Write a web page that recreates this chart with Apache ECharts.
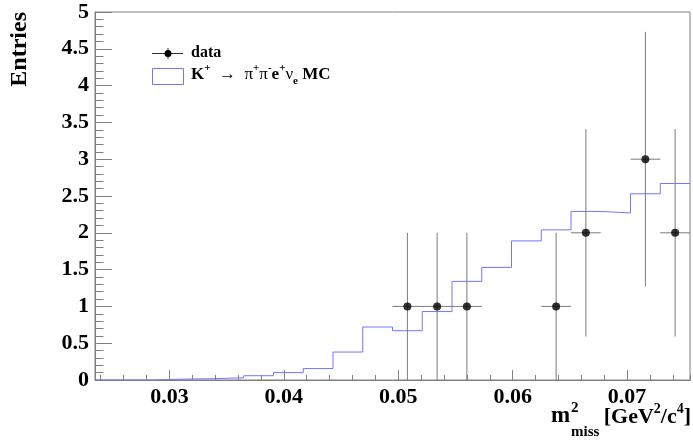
<!DOCTYPE html>
<html><head><meta charset="utf-8">
<script src="https://cdn.jsdelivr.net/npm/echarts@6/dist/echarts.min.js"></script>
<style>html,body{margin:0;padding:0;background:#fff}#c{width:693px;height:444px}</style>
</head><body><div id="c"></div>
<script>
// ---- data ----
const xMin = 0.0235, xMax = 0.0755, binWidth = 0.0026;
// MC histogram (20 bins) heights
const mcValues = [0, 0, 0.012, 0.018, 0.03, 0.058, 0.10, 0.155, 0.38, 0.72,
                  0.67, 0.93, 1.34, 1.53, 1.89, 2.04, 2.29, 2.27, 2.53, 2.67];
// data points: bin index, entries, error
const dataBins = [10, 11, 12, 15, 16, 18, 19];
const dataCounts = [1, 1, 1, 1, 2, 3, 2];
const dataErrors = [1, 1, 1, 1, 1.41, 1.73, 1.41];
const xLabels = ['0.03', '0.04', '0.05', '0.06', '0.07'];
const yLabels = ['0', '0.5', '1', '1.5', '2', '2.5', '3', '3.5', '4', '4.5', '5'];

const FONT = '"Liberation Serif", "Times New Roman", serif';
const GRAY = '#808080';
const MC = '#7474ff';

const edges = mcValues.map((v, i) => xMin + i * binWidth);
const mcLine = mcValues.map((v, i) => [edges[i], v]);
mcLine.push([xMax, mcValues[mcValues.length - 1]]);
const points = dataBins.map((b, i) => [xMin + (b + 0.5) * binWidth, dataCounts[i], dataErrors[i]]);

function labelFor(list, v) {
  for (const s of list) if (Math.abs(parseFloat(s) - v) < 1e-9) return s;
  return '';
}

const chart = echarts.init(document.getElementById('c'));
chart.setOption({
  animation: false,
  backgroundColor: '#fff',
  grid: { left: 95, right: 3, top: 12, bottom: 64, show: true, borderColor: GRAY, borderWidth: 1, backgroundColor: 'transparent' },
  xAxis: [{
    type: 'value', min: xMin, max: xMax, splitNumber: 5,
    axisLine: { show: true, lineStyle: { color: GRAY, width: 1 } },
    axisTick: { show: true, inside: true, length: 10, lineStyle: { color: GRAY } },
    splitLine: { show: false },
    axisLabel: { showMinLabel: false, showMaxLabel: false, margin: 6,
      formatter: v => labelFor(xLabels, v),
      fontFamily: FONT, fontWeight: 'bold', fontSize: 22, color: '#000' }
  }, {
    type: 'value', min: xMin, max: xMax, splitNumber: 26, position: 'bottom',
    axisLine: { show: false }, axisLabel: { show: false }, splitLine: { show: false },
    axisTick: { show: true, inside: true, length: 5, lineStyle: { color: GRAY } }
  }],
  yAxis: {
    type: 'value', min: 0, max: 5, interval: 0.5,
    axisLine: { show: true, lineStyle: { color: GRAY, width: 1 } },
    axisTick: { show: true, inside: true, length: 17, lineStyle: { color: GRAY } },
    minorTick: { show: true, splitNumber: 5, length: 8.5, lineStyle: { color: GRAY } },
    splitLine: { show: false }, minorSplitLine: { show: false },
    axisLabel: { margin: 6, padding: [4, 0, 0, 0], formatter: v => labelFor(yLabels, v),
      fontFamily: FONT, fontWeight: 'bold', fontSize: 22, color: '#000' }
  },
  series: [{
    type: 'line', name: 'MC', step: 'end', data: mcLine, symbol: 'none',
    lineStyle: { color: MC, width: 1 }, xAxisIndex: 0, yAxisIndex: 0, z: 2
  }, {
    type: 'custom', name: 'errors', data: points, xAxisIndex: 0, yAxisIndex: 0, z: 3,
    encode: { x: 0, y: 1 },
    renderItem(params, api) {
      const xc = api.value(0), y = api.value(1), e = api.value(2);
      const l = api.coord([xc - binWidth / 2, y]), r = api.coord([xc + binWidth / 2, y]);
      const t = api.coord([xc, y + e]), b = api.coord([xc, y - e]);
      const st = { stroke: '#7a7a7a', lineWidth: 1 };
      return { type: 'group', children: [
        { type: 'line', shape: { x1: l[0], y1: l[1], x2: r[0], y2: r[1] }, style: st },
        { type: 'line', shape: { x1: t[0], y1: t[1], x2: b[0], y2: b[1] }, style: st }
      ] };
    }
  }, {
    type: 'scatter', name: 'data', data: points.map(p => [p[0], p[1]]), symbol: 'circle', symbolSize: 8,
    itemStyle: { color: '#000' }, xAxisIndex: 0, yAxisIndex: 0, z: 4
  }],
  graphic: [
    { type: 'text', x: 20, y: 12, rotation: Math.PI / 2,
      style: { text: 'Entries', fontFamily: FONT, fontWeight: 'bold', fontSize: 24, fill: '#000',
               align: 'right', verticalAlign: 'middle', textAlign: 'right', textVerticalAlign: 'middle' } },
    // x-axis title
    { type: 'text', x: 551, y: 416.5,
      style: { text: 'm', fontFamily: FONT, fontWeight: 'bold', fontSize: 23, fill: '#000',
               align: 'left', verticalAlign: 'middle', textAlign: 'left', textVerticalAlign: 'middle' } },
    { type: 'text', x: 571, y: 408,
      style: { text: '2', fontFamily: FONT, fontWeight: 'bold', fontSize: 15, fill: '#000',
               align: 'left', verticalAlign: 'middle', textAlign: 'left', textVerticalAlign: 'middle' } },
    { type: 'text', x: 571, y: 432,
      style: { text: 'miss', fontFamily: FONT, fontWeight: 'bold', fontSize: 15, fill: '#000',
               align: 'left', verticalAlign: 'middle', textAlign: 'left', textVerticalAlign: 'middle' } },
    { type: 'text', x: 691, y: 417,
      style: { text: '{b|[GeV}{s|2}{b|/c}{s|4}{b|]}', fill: '#000',
               align: 'right', verticalAlign: 'middle', textAlign: 'right', textVerticalAlign: 'middle',
               rich: {
                 b: { fontFamily: FONT, fontWeight: 'bold', fontSize: 22, lineHeight: 30, verticalAlign: 'middle' },
                 s: { fontFamily: FONT, fontWeight: 'bold', fontSize: 14, lineHeight: 15, verticalAlign: 'top' }
               } } },
    // legend
    { type: 'line', shape: { x1: 152, y1: 53.5, x2: 183, y2: 53.5 }, style: { stroke: '#333', lineWidth: 1 } },
    { type: 'line', shape: { x1: 168, y1: 48, x2: 168, y2: 59 }, style: { stroke: '#333', lineWidth: 1 } },
    { type: 'circle', shape: { cx: 168, cy: 53.5, r: 3.5 }, style: { fill: '#000' } },
    { type: 'rect', shape: { x: 152.5, y: 68.5, width: 31, height: 16 }, style: { fill: 'none', stroke: MC, lineWidth: 1 } },
    { type: 'text', x: 191, y: 53,
      style: { text: 'data', fontFamily: FONT, fontWeight: 'bold', fontSize: 16, fill: '#000',
               align: 'left', verticalAlign: 'middle', textAlign: 'left', textVerticalAlign: 'middle' } },
    { type: 'text', x: 191, y: 75,
      style: { text: '{b|K}{s|+}{r|  \u2192  \u03c0}{s|+}{r|\u03c0}{s|-}{b|e}{s|+}{r|\u03bd}{u|e}{b| MC}', fill: '#000',
               align: 'left', verticalAlign: 'middle', textAlign: 'left', textVerticalAlign: 'middle',
               rich: {
                 b: { fontFamily: FONT, fontWeight: 'bold', fontSize: 17, lineHeight: 24, verticalAlign: 'middle' },
                 r: { fontFamily: FONT, fontWeight: 'normal', fontSize: 17, lineHeight: 24, verticalAlign: 'middle' },
                 s: { fontFamily: FONT, fontWeight: 'bold', fontSize: 11, lineHeight: 12, verticalAlign: 'top' },
                 u: { fontFamily: FONT, fontWeight: 'bold', fontSize: 11, lineHeight: 12, verticalAlign: 'bottom' }
               } } }
  ]
});
</script>
</body></html>
